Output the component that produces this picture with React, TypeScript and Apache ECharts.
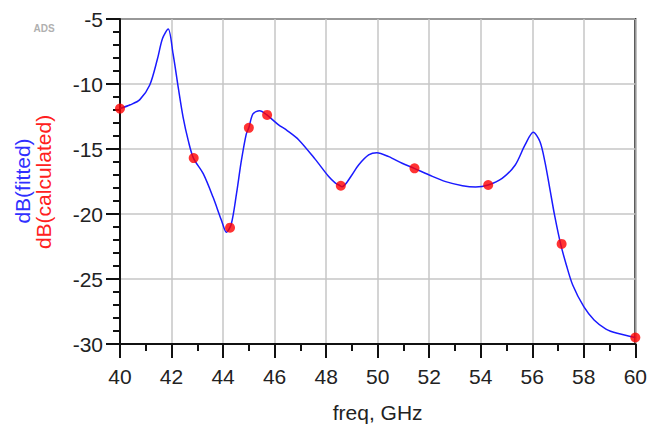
import React, { useEffect, useRef } from "react";
import * as echarts from "echarts";

// Fitted curve (blue line)
const freqFitted = [
  40.0, 40.4, 40.77, 41.15, 41.45, 41.65, 41.87, 42.06, 42.26, 42.45, 42.65, 42.85,
  43.23, 43.61, 43.94, 44.13, 44.32, 44.52, 44.71, 44.9, 45.0, 45.16, 45.42, 45.7,
  46.13, 46.5, 46.94, 47.58, 48.09, 48.35, 48.55, 48.62, 49.0, 49.26, 49.65, 49.97,
  50.43, 50.95, 51.42, 52.0, 52.64, 53.29, 53.8, 54.29, 54.83, 55.34, 55.72, 56.04,
  56.3, 56.49, 56.68, 56.87, 57.1, 57.32, 57.57, 58.0, 58.4, 58.86, 59.3, 60.0,
];
const dbFitted = [
  -11.89, -11.6, -11.2, -10.1, -8.1, -6.5, -5.77, -7.69, -10.26, -12.56, -14.36, -15.7,
  -16.9, -18.7, -20.5, -21.4, -20.77, -18.46, -15.9, -13.85, -13.37, -12.3, -12.05, -12.38,
  -13.1, -13.6, -14.3, -15.8, -17.1, -17.6, -17.83, -17.9, -17.0, -16.23, -15.46, -15.28,
  -15.59, -16.1, -16.49, -17.0, -17.51, -17.82, -17.92, -17.77, -17.26, -16.23, -14.69, -13.72,
  -14.44, -15.97, -18.03, -20.13, -22.3, -23.9, -25.46, -27.13, -28.15, -28.85, -29.18, -29.5,
];

// Calculated points (red markers)
const freqCalculated = [40.0, 42.86, 44.27, 45.0, 45.71, 48.57, 51.43, 54.29, 57.14, 60.0];
const dbCalculated = [-11.89, -15.7, -21.05, -13.37, -12.38, -17.83, -16.49, -17.77, -22.3, -29.5];

const FONT = "'Liberation Sans', Arial, sans-serif";

export default function App() {
  const ref = useRef<HTMLDivElement>(null);

  useEffect(() => {
    const chart = echarts.init(ref.current!, null, { renderer: "svg" });
    const fitted = freqFitted.map((f, i) => [f, dbFitted[i]]);
    const calculated = freqCalculated.map((f, i) => [f, dbCalculated[i]]);

    chart.setOption({
      animation: false,
      backgroundColor: "#ffffff",
      grid: {
        left: 120,
        right: 12,
        top: 19,
        bottom: 86,
        show: true,
        borderColor: "#111",
        borderWidth: 2,
        backgroundColor: "transparent",
      },
      xAxis: {
        type: "value",
        min: 40,
        max: 60,
        interval: 2,
        name: "freq, GHz",
        nameLocation: "middle",
        nameGap: 58,
        nameTextStyle: { fontFamily: FONT, fontSize: 21, color: "#222" },
        axisLine: { show: true, onZero: false, lineStyle: { color: "#111", width: 2 } },
        axisTick: { show: true, inside: false, length: 14, lineStyle: { color: "#111", width: 2 } },
        minorTick: { show: true, splitNumber: 2, length: 7, lineStyle: { color: "#111", width: 2 } },
        axisLabel: { fontFamily: FONT, fontSize: 21, color: "#222", margin: 22 },
        splitLine: { show: true, lineStyle: { color: "#c6c6c6", width: 1.5 } },
      },
      yAxis: {
        type: "value",
        min: -30,
        max: -5,
        interval: 5,
        axisLine: { show: true, onZero: false, lineStyle: { color: "#111", width: 2 } },
        axisTick: { show: true, inside: false, length: 14, lineStyle: { color: "#111", width: 2 } },
        minorTick: { show: true, splitNumber: 5, length: 7, lineStyle: { color: "#111", width: 2 } },
        axisLabel: { fontFamily: FONT, fontSize: 21, color: "#222", margin: 17 },
        splitLine: { show: true, lineStyle: { color: "#c6c6c6", width: 1.5 } },
      },
      graphic: [
        {
          type: "text",
          x: 44,
          y: 28,
          style: {
            text: "ADS",
            fill: "#b0b0b0",
            fontFamily: FONT,
            fontSize: 10,
            fontWeight: "bold",
            textAlign: "center",
            textVerticalAlign: "middle",
            align: "center",
            verticalAlign: "middle",
          },
        },
        {
          type: "text",
          x: 22,
          y: 181,
          rotation: Math.PI / 2,
          style: {
            text: "dB(fitted)",
            fill: "#3030ff",
            fontFamily: FONT,
            fontSize: 21,
            textAlign: "center",
            textVerticalAlign: "middle",
            align: "center",
            verticalAlign: "middle",
          },
        },
        {
          type: "text",
          x: 43,
          y: 182,
          rotation: Math.PI / 2,
          style: {
            text: "dB(calculated)",
            fill: "#ff2020",
            fontFamily: FONT,
            fontSize: 21,
            textAlign: "center",
            textVerticalAlign: "middle",
            align: "center",
            verticalAlign: "middle",
          },
        },
      ],
      series: [
        {
          name: "dB(fitted)",
          type: "line",
          data: fitted,
          smooth: 0.3,
          showSymbol: false,
          lineStyle: { color: "#1a1aff", width: 1.5 },
          z: 3,
        },
        {
          name: "dB(calculated)",
          type: "scatter",
          data: calculated,
          symbol: "circle",
          symbolSize: 10,
          itemStyle: { color: "#ff0000" },
          z: 4,
        },
      ],
    });
    return () => chart.dispose();
  }, []);

  return (
    <div
      ref={ref}
      style={{ position: "absolute", left: 0, top: 0, width: 650, height: 430, background: "#fff" }}
    />
  );
}
